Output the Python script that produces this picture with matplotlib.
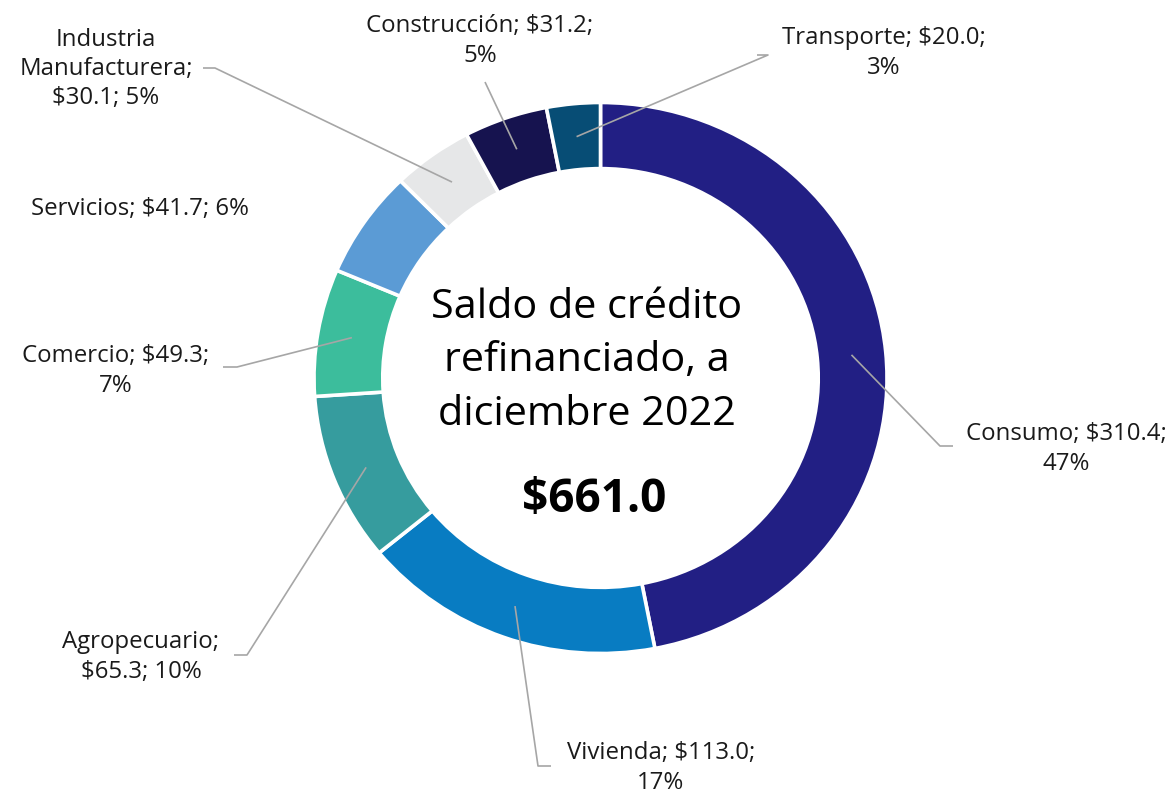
import numpy as np
import matplotlib
import matplotlib.pyplot as plt

matplotlib.rcParams["font.family"] = ["Open Sans", "DejaVu Sans"]

# data
sectors = ["Consumo", "Vivienda", "Agropecuario", "Comercio", "Servicios",
           "Industria Manufacturera", "Construcción", "Transporte"]
saldo = [310.4, 113.0, 65.3, 49.3, 41.7, 30.1, 31.2, 20.0]
pct = [47, 17, 10, 7, 6, 5, 5, 3]
labels = [
    "Consumo; $310.4;\n47%",
    "Vivienda; $113.0;\n17%",
    "Agropecuario;\n$65.3; 10%",
    "Comercio; $49.3;\n7%",
    "Servicios; $41.7; 6%",
    "Industria\nManufacturera;\n$30.1; 5%",
    "Construcción; $31.2;\n5%",
    "Transporte; $20.0;\n3%",
]
total = sum(saldo)

colors = ["#221F84", "#087CC2", "#369C9E", "#3CBD9C", "#5B9BD5",
          "#E6E7E8", "#16134F", "#074D75"]

# layout in pixels of the 1174x794 image (origin top-left)
W, H = 1174, 794
CX, CY = 600.5, 378.0
RX, RY = 286.5, 275.5
RING = 0.24

# text centre, leader elbow points (None -> no leader)
text_pos = [(1066, 449), (661, 768), (141, 657), (116, 371), (140, 209),
            (106, 69), (480, 41), (884, 53)]
leader_pts = [
    [(940, 446), (953, 446)],
    [(538, 766), (551, 766)],
    [(247, 655), (234, 655)],
    [(237, 367), (223, 367)],
    None,
    [(215, 68), (203, 68)],
    [(485, 82)],
    [(768, 55), (757, 55)],
]


def P(px, py):
    return (px - CX) / RX, (CY - py) / RY


fig = plt.figure(figsize=(W / 100, H / 100), dpi=100)
ax = fig.add_axes([0, 0, 1, 1])

wedges, _ = ax.pie(saldo, colors=colors, startangle=90, counterclock=False,
                   radius=1.0,
                   wedgeprops=dict(width=RING, edgecolor="white", linewidth=2.6))
ax.set_aspect("auto")
ax.set_xlim(-CX / RX, (W - CX) / RX)
ax.set_ylim(-(H - CY) / RY, CY / RY)
ax.axis("off")

rmid = 1 - RING / 2
for w, lab, tp, lp in zip(wedges, labels, text_pos, leader_pts):
    ang = np.deg2rad((w.theta1 + w.theta2) / 2)
    if lp is not None:
        xs = [rmid * np.cos(ang)] + [P(*p)[0] for p in lp]
        ys = [rmid * np.sin(ang)] + [P(*p)[1] for p in lp]
        ax.plot(xs, ys, color="#A6A6A6", lw=1.2, solid_capstyle="butt", zorder=3)
    tx, ty = P(*tp)
    ax.text(tx, ty, lab, ha="center", va="center", fontsize=17.3,
            color="#1a1a1a", linespacing=1.3)

cx, cy = P(587, 361)
ax.text(cx, cy, "Saldo de crédito\nrefinanciado, a\ndiciembre 2022", ha="center",
        va="center", fontsize=29.8, linespacing=1.42, color="black")
vx, vy = P(594, 500)
ax.text(vx, vy, f"${total:.1f}", ha="center", va="center", fontsize=33,
        fontweight="bold", color="black")

fig.savefig("out.png", dpi=100)
